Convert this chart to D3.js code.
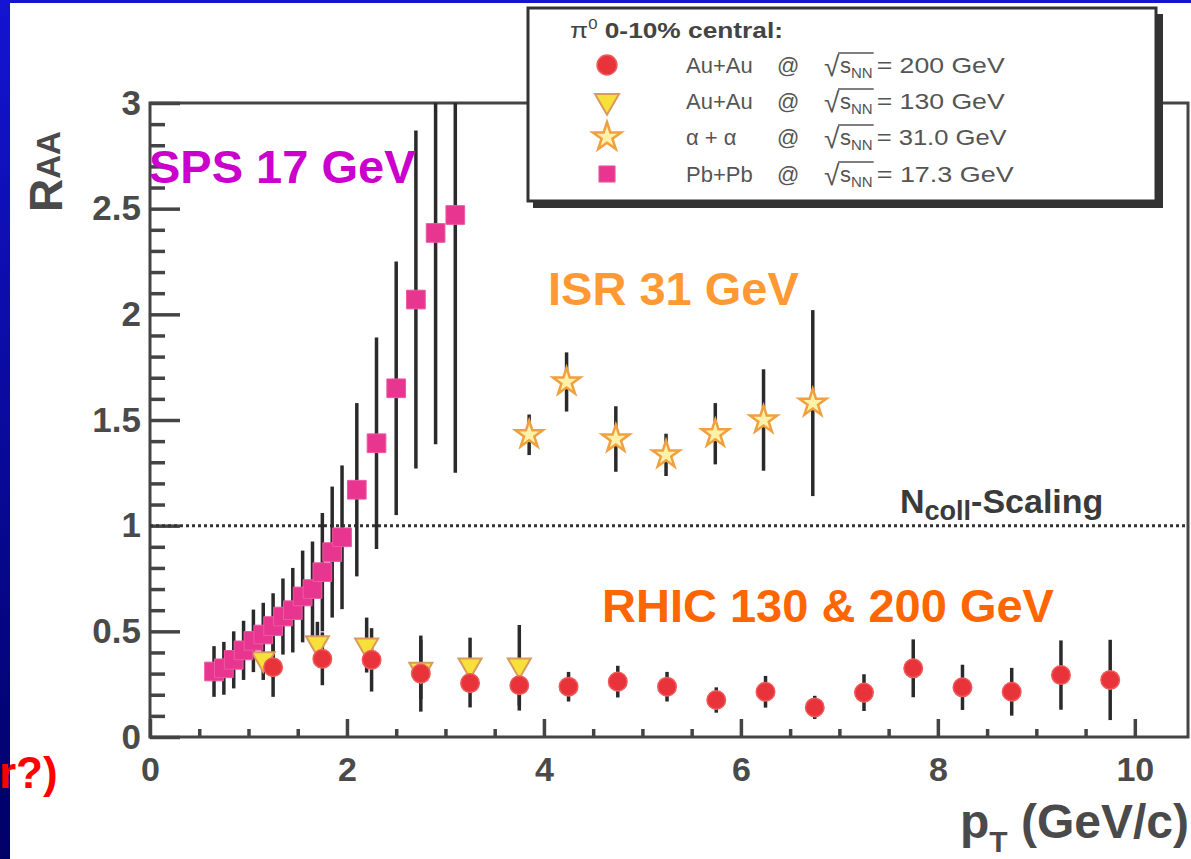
<!DOCTYPE html>
<html><head><meta charset="utf-8">
<script src="https://cdn.jsdelivr.net/npm/d3@7"></script>
<style>body{margin:0;background:#fff}svg{display:block}</style>
</head><body>
<script>
// ---------------- DATA ----------------
const xMajorTicks = [0, 2, 4, 6, 8, 10];
const xMinorTicks = [0.5, 1, 1.5, 2.5, 3, 3.5, 4.5, 5, 5.5, 6.5, 7, 7.5, 8.5, 9, 9.5];
const yMajorTicks = [0, 0.5, 1, 1.5, 2, 2.5, 3];
const yMinorTicks = [0.1,0.2,0.3,0.4,0.6,0.7,0.8,0.9,1.1,1.2,1.3,1.4,1.6,1.7,1.8,1.9,2.1,2.2,2.3,2.4,2.6,2.7,2.8,2.9];

// Pb+Pb @ 17.3 GeV (SPS) - squares
const spsPt  = [0.65,0.75,0.85,0.95,1.05,1.15,1.25,1.35,1.45,1.55,1.65,1.75,1.85,1.95,2.1,2.3,2.5,2.7,2.9,3.1];
const spsRaa = [0.31,0.325,0.365,0.41,0.455,0.485,0.525,0.57,0.60,0.665,0.70,0.78,0.875,0.945,1.17,1.39,1.65,2.07,2.385,2.47];
const spsErr = [0.12,0.125,0.135,0.14,0.148,0.15,0.155,0.18,0.20,0.217,0.225,0.28,0.31,0.34,0.41,0.50,0.60,0.80,1.00,1.22];

// Au+Au @ 130 GeV - triangles
const au130Pt  = [1.15,1.7,2.2,2.75,3.25,3.75];
const au130Raa = [0.37,0.445,0.435,0.32,0.34,0.34];
const au130Err = [0.10,0.10,0.13,0.14,0.13,0.19];

// Au+Au @ 200 GeV - circles
const au200Pt  = [1.25,1.75,2.25,2.75,3.25,3.75,4.25,4.75,5.25,5.75,6.25,6.75,7.25,7.75,8.25,8.75,9.25,9.75];
const au200Raa = [0.33,0.37,0.365,0.30,0.255,0.245,0.238,0.262,0.238,0.175,0.214,0.14,0.21,0.325,0.235,0.214,0.293,0.27];
const au200Err = [0.14,0.125,0.15,0.18,0.115,0.12,0.07,0.075,0.07,0.06,0.075,0.055,0.087,0.137,0.107,0.113,0.164,0.19];

// alpha+alpha @ 31 GeV (ISR) - stars
const isrPt  = [3.85,4.23,4.73,5.24,5.74,6.23,6.73];
const isrRaa = [1.43,1.68,1.41,1.335,1.435,1.50,1.58];
const isrErr = [0.096,0.14,0.155,0.10,0.145,0.24,0.44];

const legendSystems  = ["Au+Au", "Au+Au", "\u03b1 + \u03b1", "Pb+Pb"];
const legendEnergies = ["= 200 GeV", "= 130 GeV", "= 31.0 GeV", "= 17.3 GeV"];
const legendSymbols  = ["circle", "triangle", "star", "square"];

// ---------------- SETUP ----------------
const W = 1191, H = 859;
const svg = d3.select("body").append("svg").attr("width", W).attr("height", H);
const defs = svg.append("defs");
const grad = defs.append("linearGradient").attr("id","bg").attr("x1",0).attr("y1",0).attr("x2",0).attr("y2",1);
grad.append("stop").attr("offset","0%").attr("stop-color","#1414d2");
grad.append("stop").attr("offset","100%").attr("stop-color","#000066");
svg.append("rect").attr("width",W).attr("height",H).attr("fill","url(#bg)");
svg.append("rect").attr("x",10).attr("y",3).attr("width",W-10).attr("height",H-3).attr("fill","#fff");

const FONT = "'Liberation Sans', Arial, Helvetica, sans-serif";
const pLeft = 150, pRight = 1188, pTop = 103, pBottom = 737;
const x = d3.scaleLinear().domain([0, 10.54]).range([pLeft, pRight]);
const y = d3.scaleLinear().domain([0, 3]).range([pBottom, pTop]);

defs.append("clipPath").attr("id","plotclip").append("rect")
  .attr("x",pLeft).attr("y",pTop).attr("width",pRight-pLeft).attr("height",pBottom-pTop);

const axisColor = "#444";

// axes (ticks inward)
const gy = svg.append("g").attr("transform",`translate(${pLeft},0)`)
  .call(d3.axisLeft(y).tickValues(yMajorTicks).tickSize(-30).tickPadding(9)
        .tickFormat(d => d3.format("")(d)));
const gyMinor = svg.append("g").attr("transform",`translate(${pLeft},0)`)
  .call(d3.axisLeft(y).tickValues(yMinorTicks).tickSize(-15).tickFormat(""));
const gx = svg.append("g").attr("transform",`translate(0,${pBottom})`)
  .call(d3.axisBottom(x).tickValues(xMajorTicks).tickSize(-18).tickPadding(20));
const gxMinor = svg.append("g").attr("transform",`translate(0,${pBottom})`)
  .call(d3.axisBottom(x).tickValues(xMinorTicks).tickSize(-8).tickFormat(""));
[gy, gyMinor, gx, gxMinor].forEach(g => {
  g.select(".domain").remove();
  g.selectAll(".tick line").attr("stroke", axisColor).attr("stroke-width", 3.5);
  g.selectAll(".tick text").attr("fill","#4a4a4a").attr("font-family",FONT)
    .attr("font-size",34).attr("font-weight","bold");
});
gy.selectAll(".tick text").attr("font-size",35);

// frame
svg.append("rect").attr("x",pLeft).attr("y",pTop).attr("width",pRight-pLeft).attr("height",pBottom-pTop)
  .attr("fill","none").attr("stroke",axisColor).attr("stroke-width",3);

// Ncoll scaling dotted line
svg.append("line").attr("x1",pLeft).attr("x2",pRight).attr("y1",y(1)).attr("y2",y(1))
  .attr("stroke","#333").attr("stroke-width",3).attr("stroke-dasharray","3,3");

// ---------------- DATA MARKS ----------------
const plot = svg.append("g").attr("clip-path","url(#plotclip)");
function errBars(pt, raa, err) {
  plot.append("g").selectAll("line").data(pt).join("line")
    .attr("x1",(d)=>x(d)).attr("x2",(d)=>x(d))
    .attr("y1",(d,i)=>y(raa[i]+err[i])).attr("y2",(d,i)=>y(raa[i]-err[i]))
    .attr("stroke","#2a2a2a").attr("stroke-width",3.5);
}
errBars(isrPt, isrRaa, isrErr);
errBars(au130Pt, au130Raa, au130Err);
errBars(au200Pt, au200Raa, au200Err);
errBars(spsPt, spsRaa, spsErr);

const symStyles = {
  circle:   {type: d3.symbolCircle,   size: 270, fill:"#e8333a", stroke:"#ee5a5a", sw:1.5, rot:0},
  triangle: {type: d3.symbolTriangle, size: 230, fill:"#f8e03a", stroke:"#d99a5a", sw:2, rot:180},
  star:     {type: d3.symbolStar,     size: 230, fill:"#fff2a8", stroke:"#f0a040", sw:2.5, rot:0},
  square:   {type: d3.symbolSquare,   size: 350, fill:"#e8358f", stroke:"#ec5aa2", sw:1, rot:0}
};
function markers(pt, raa, key) {
  const s = symStyles[key];
  plot.append("g").selectAll("path").data(pt).join("path")
    .attr("d", d3.symbol().type(s.type).size(s.size))
    .attr("transform",(d,i)=>`translate(${x(d)},${y(raa[i])}) rotate(${s.rot})`)
    .attr("fill", s.fill).attr("stroke", s.stroke).attr("stroke-width", s.sw);
}
markers(isrPt, isrRaa, "star");
markers(au130Pt, au130Raa, "triangle");
markers(au200Pt, au200Raa, "circle");
markers(spsPt, spsRaa, "square");

// ---------------- LABELS ----------------
const ry = svg.append("text").attr("transform","translate(62,212) rotate(-90)")
  .attr("font-family",FONT).attr("font-weight","bold").attr("fill","#4a4a4a");
ry.append("tspan").attr("font-size",46).text("R");
ry.append("tspan").attr("font-size",33).attr("dy",-2).text("AA");

const px = svg.append("text").attr("x",960).attr("y",838)
  .attr("font-family",FONT).attr("font-weight","bold").attr("fill","#4a4a4a");
px.append("tspan").attr("font-size",48).text("p");
px.append("tspan").attr("font-size",30).attr("dy",14).text("T");
px.append("tspan").attr("font-size",48).attr("dy",-14).text(" (GeV/c)");

const nc = svg.append("text").attr("x",900).attr("y",513)
  .attr("font-family",FONT).attr("font-weight","bold").attr("fill","#3a3a3a");
nc.append("tspan").attr("font-size",34).text("N");
nc.append("tspan").attr("font-size",27).attr("dy",7).text("coll");
nc.append("tspan").attr("font-size",34).attr("dy",-7).text("-Scaling");

svg.append("text").attr("x",149).attr("y",183).attr("font-family",FONT).attr("font-weight","bold")
  .attr("font-size",47).attr("fill","#cc00cc").text("SPS 17 GeV");
svg.append("text").attr("x",548).attr("y",305).attr("font-family",FONT).attr("font-weight","bold")
  .attr("font-size",47).attr("fill","#ff9933").text("ISR 31 GeV");
svg.append("text").attr("x",602).attr("y",622).attr("font-family",FONT).attr("font-weight","bold")
  .attr("font-size",47).attr("fill","#ff6600").text("RHIC 130 & 200 GeV");
svg.append("text").attr("x",-1).attr("y",788).attr("font-family",FONT).attr("font-weight","bold")
  .attr("font-size",44).attr("fill","#ff0000").text("r?)");

// ---------------- LEGEND ----------------
const lg = svg.append("g");
lg.append("rect").attr("x",533).attr("y",14).attr("width",630).attr("height",194).attr("fill","#333");
lg.append("rect").attr("x",528).attr("y",8).attr("width",628).attr("height",193)
  .attr("fill","#fff").attr("stroke","#333").attr("stroke-width",3);
const title = lg.append("text").attr("x",570).attr("y",38).attr("font-family",FONT)
  .attr("font-size",22).attr("fill","#444")
  .attr("textLength",213).attr("lengthAdjust","spacingAndGlyphs");
title.append("tspan").text("\u03c0");
title.append("tspan").attr("font-size",14).attr("dy",-9).text("0");
title.append("tspan").attr("dy",9).attr("font-weight","bold").text(" 0-10% central:");

const rowY = [65, 101, 137, 174];
const legendSize = {circle:310, triangle:250, star:250, square:260};
const energyWidths = [128, 128, 130, 137];
legendSystems.forEach((sys, i) => {
  const s = symStyles[legendSymbols[i]];
  lg.append("path").attr("d", d3.symbol().type(s.type).size(legendSize[legendSymbols[i]]))
    .attr("transform",`translate(607,${rowY[i]}) rotate(${s.rot})`)
    .attr("fill",s.fill).attr("stroke",s.stroke).attr("stroke-width",s.sw);
  const base = rowY[i] + 8;
  const tc = "#555";
  lg.append("text").attr("x",686).attr("y",base).attr("font-family",FONT).attr("font-size",22)
    .attr("fill",tc).text(sys);
  lg.append("text").attr("x",777).attr("y",base).attr("font-family",FONT).attr("font-size",22)
    .attr("fill",tc).text("@");
  const x0 = 824;
  lg.append("text").attr("x",x0).attr("y",base+3).attr("font-family",FONT).attr("font-size",28)
    .attr("fill",tc).text("\u221a");
  const sn = lg.append("text").attr("x",x0+16).attr("y",base).attr("font-family",FONT)
    .attr("font-size",22).attr("fill",tc);
  sn.append("tspan").text("s");
  sn.append("tspan").attr("font-size",15).attr("dy",5).text("NN");
  const w = sn.node().getComputedTextLength();
  lg.append("line").attr("x1",x0+14).attr("x2",x0+16+w+1).attr("y1",base-20).attr("y2",base-20)
    .attr("stroke",tc).attr("stroke-width",1.5);
  lg.append("text").attr("x",x0+16+w+4).attr("y",base).attr("font-family",FONT).attr("font-size",22)
    .attr("fill",tc).attr("textLength",energyWidths[i]).attr("lengthAdjust","spacingAndGlyphs")
    .text(legendEnergies[i]);
});
</script></body></html>
